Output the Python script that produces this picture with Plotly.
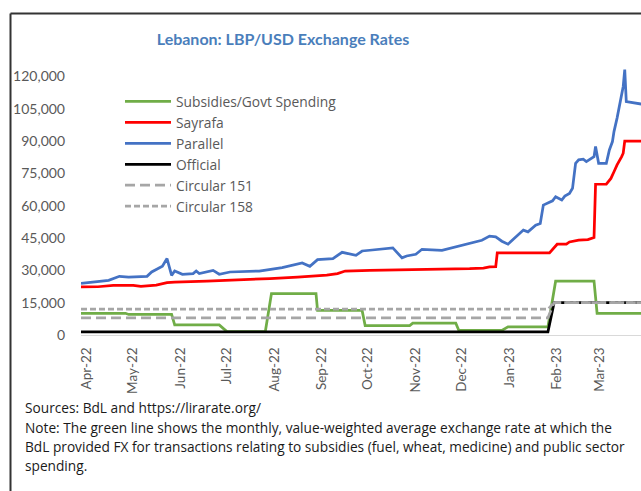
import plotly.graph_objects as go

# ---- data: LBP per USD ----
parallel_dates = [
    "2022-04-01", "2022-04-11", "2022-04-19", "2022-04-26", "2022-05-02", "2022-05-14",
    "2022-05-17", "2022-05-24", "2022-05-27", "2022-05-30", "2022-06-01", "2022-06-06",
    "2022-06-13", "2022-06-15", "2022-06-17", "2022-06-26", "2022-06-30", "2022-07-07",
    "2022-07-26", "2022-08-10", "2022-08-23", "2022-08-28", "2022-09-02", "2022-09-12",
    "2022-09-18", "2022-09-27", "2022-10-01", "2022-10-06", "2022-10-21", "2022-10-27",
    "2022-10-30", "2022-11-05", "2022-11-09", "2022-11-22", "2022-12-10", "2022-12-18",
    "2022-12-23", "2022-12-27", "2022-12-31", "2023-01-04", "2023-01-14", "2023-01-17",
    "2023-01-22", "2023-01-25", "2023-01-27", "2023-02-02", "2023-02-04", "2023-02-08",
    "2023-02-10", "2023-02-13", "2023-02-15", "2023-02-17", "2023-02-19", "2023-02-22",
    "2023-02-24", "2023-03-01", "2023-03-02", "2023-03-04", "2023-03-09", "2023-03-11",
    "2023-03-13", "2023-03-14", "2023-03-16", "2023-03-18", "2023-03-20", "2023-03-21",
    "2023-03-22", "2023-04-01",
]
parallel_vals = [
    24000, 24900, 25400, 27250, 26900, 27250,
    29250, 31900, 35500, 27700, 29700, 28200,
    28500, 29700, 28500, 30000, 28200, 29250,
    29700, 31300, 33450, 31900, 35000, 35500,
    38400, 37000, 39000, 39350, 40450, 35800,
    36700, 37500, 39800, 39350, 42500, 44000,
    45900, 45550, 43550, 42150, 48700, 47900,
    51000, 51800, 60300, 62300, 64200, 62650,
    64500, 65750, 68100, 79700, 81300, 81600,
    80500, 82800, 87500, 79700, 79700, 85900,
    89800, 94450, 100700, 107700, 115400, 123200,
    108400, 107200,
]

sayrafa_dates = [
    "2022-04-01", "2022-04-12", "2022-04-22", "2022-05-05", "2022-05-10", "2022-05-20",
    "2022-05-27", "2022-06-01", "2022-06-22", "2022-07-15", "2022-08-02", "2022-08-20",
    "2022-09-08", "2022-09-15", "2022-09-20", "2022-10-06", "2022-11-20", "2022-12-10",
    "2022-12-19", "2022-12-23", "2022-12-27", "2022-12-28", "2023-01-31", "2023-02-05",
    "2023-02-11", "2023-02-13", "2023-02-19", "2023-02-25", "2023-03-01", "2023-03-02",
    "2023-03-09", "2023-03-12", "2023-03-14", "2023-03-16", "2023-03-19", "2023-03-20",
    "2023-03-21", "2023-04-01",
]
sayrafa_vals = [
    22300, 22400, 23000, 23000, 22600, 23200,
    24300, 24600, 25000, 25600, 26200, 26900,
    27800, 28500, 29700, 30000, 30400, 30800,
    31100, 31600, 31700, 38100, 38100, 42150,
    42200, 43200, 44000, 44300, 45300, 70000,
    70100, 72700, 75800, 79000, 82800, 84400,
    90000, 90000,
]

# monthly value-weighted subsidy / public-spending rate (start and end of each month's level)
subsidy_dates = [
    "2022-04-01", "2022-04-30", "2022-05-02", "2022-05-30", "2022-06-01", "2022-06-30",
    "2022-07-05", "2022-07-30", "2022-08-03", "2022-09-01", "2022-09-02", "2022-10-01",
    "2022-10-03", "2022-11-01", "2022-11-03", "2022-12-01", "2022-12-03", "2022-12-31",
    "2023-01-04", "2023-01-30", "2023-02-04", "2023-03-01", "2023-03-03", "2023-04-01",
]
subsidy_vals = [
    10100, 10100, 9550, 9550, 4700, 4700,
    1600, 1600, 19200, 19200, 11400, 11400,
    4400, 4400, 5500, 5500, 2100, 2100,
    3800, 3800, 25000, 25000, 10100, 10100,
]

policy_dates = ["2022-04-01", "2023-01-30", "2023-02-03", "2023-04-01"]
official_vals = [1507.5, 1507.5, 15000, 15000]
circ151_vals = [8000, 8000, 15000, 15000]
circ158_vals = [12000, 12000, 15000, 15000]

y_ticks = [0, 15000, 30000, 45000, 60000, 75000, 90000, 105000, 120000]

notes = [
    "Sources: BdL and https://lirarate.org/",
    "Note: The green line shows the monthly, value-weighted average exchange rate at which the",
    "BdL provided FX for transactions relating to subsidies (fuel, wheat, medicine) and public sector",
    "spending.",
]

# ---- layout geometry ----
W, H = 641, 491
ML, MR, MT, MB = 81, 0, 55, 156
FONT = "Lato"
TEXT_FONT = "Open Sans"


def px_x(px):
    return (px - ML) / (W - ML - MR)


def px_y(py):
    return (H - MB - py) / (H - MT - MB)


fig = go.Figure()

series = [
    ("Subsidies/Govt Spending", subsidy_dates, subsidy_vals, "#70AD47", None),
    ("Sayrafa", sayrafa_dates, sayrafa_vals, "#FF0000", None),
    ("Parallel", parallel_dates, parallel_vals, "#4472C4", None),
    ("Official", policy_dates, official_vals, "#000000", None),
    ("Circular 151", policy_dates, circ151_vals, "#A6A6A6", "10px,5px"),
    ("Circular 158", policy_dates, circ158_vals, "#A6A6A6", "6px,3px"),
]
for name, xs, ys, color, dash in series:
    line = dict(color=color, width=2.75)
    if dash:
        line["dash"] = dash
    fig.add_trace(go.Scatter(x=xs, y=ys, mode="lines", name=name, line=line))

fig.update_layout(
    width=W,
    height=H,
    margin=dict(l=ML, r=MR, t=MT, b=MB, pad=0),
    paper_bgcolor="white",
    plot_bgcolor="white",
    font=dict(family=FONT, color="#595959"),
    title=dict(
        text="<b>Lebanon: LBP/USD Exchange Rates</b>",
        x=283 / W,
        y=1 - 39.5 / H,
        xanchor="center",
        yanchor="middle",
        font=dict(family=FONT, size=16, color="#4A7EBB"),
    ),
    showlegend=True,
    legend=dict(
        x=px_x(120),
        y=px_y(86),
        xanchor="left",
        yanchor="top",
        bgcolor="rgba(0,0,0,0)",
        font=dict(family=TEXT_FONT, size=13.8, color="#595959"),
        itemwidth=46,
        tracegroupgap=0,
    ),
    xaxis=dict(
        type="date",
        range=["2022-04-01", "2023-03-31 14:00"],
        tick0="2022-04-01",
        dtick="M1",
        tickformat="%b-%y",
        tickangle=-90,
        ticks="",
        showgrid=False,
        zeroline=False,
        showline=True,
        linecolor="#D9D9D9",
        linewidth=1,
        tickfont=dict(family=FONT, size=13.5, color="#595959"),
        ticklabelstandoff=6,
        ticklabelshift=6,
    ),
    yaxis=dict(
        range=[0, 130000],
        tickvals=y_ticks,
        tickformat=",d",
        ticks="",
        showgrid=False,
        zeroline=False,
        showline=False,
        tickfont=dict(family=FONT, size=14, color="#595959"),
        ticklabelstandoff=15,
    ),
)

# chart frame (top and left edges)
frame = dict(type="line", xref="paper", yref="paper", line=dict(color="#333333", width=2))
fig.add_shape(frame, x0=px_x(10.5), y0=px_y(H + 5), x1=px_x(10.5), y1=px_y(13.5))
fig.add_shape(frame, x0=px_x(10.5), y0=px_y(13.5), x1=px_x(W + 5), y1=px_y(13.5))

# source and note lines under the chart
for text, cy in zip(notes, [407, 427, 446, 465]):
    fig.add_annotation(
        text=text, xref="paper", yref="paper", x=px_x(23), y=px_y(cy),
        xanchor="left", yanchor="middle", showarrow=False, align="left",
        font=dict(family=TEXT_FONT, size=13.7, color="#1A1A1A"),
    )

fig.write_html("out.html")
